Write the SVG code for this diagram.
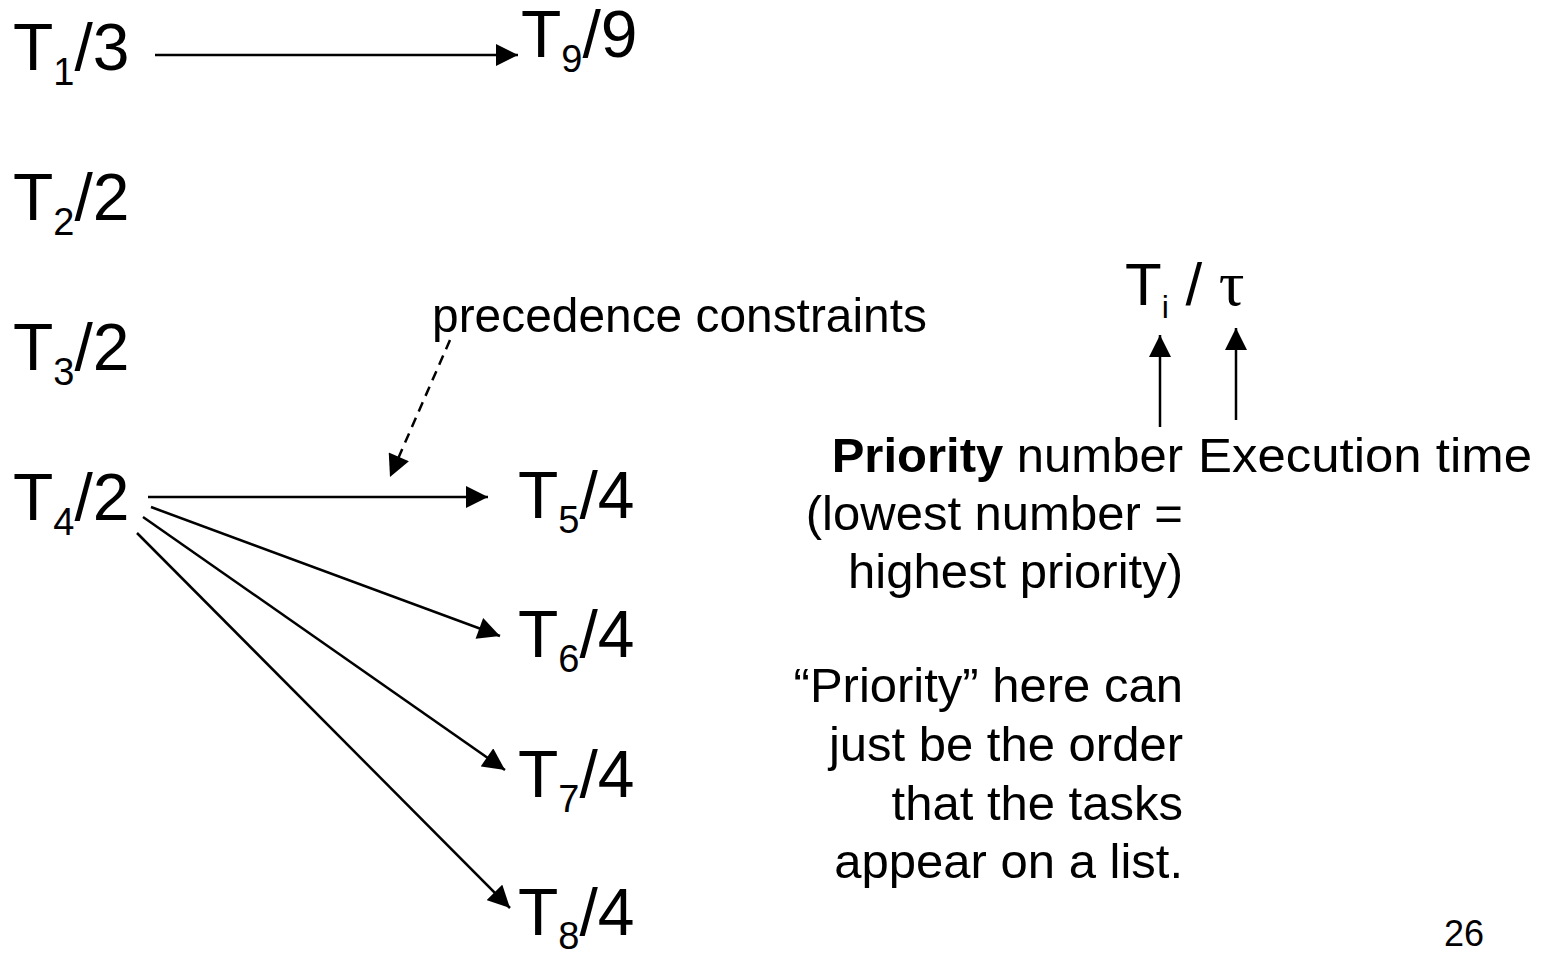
<svg xmlns="http://www.w3.org/2000/svg" width="1548" height="954" viewBox="0 0 1548 954">
<style>
text{font-family:"Liberation Sans",Arial,sans-serif;fill:#000}
.task{font-size:66px}
.sub{font-size:38px}
.note{font-size:49px}
.edge{stroke:#000;stroke-width:2.5;fill:none}
.dash{stroke-dasharray:10,7}
</style>
<defs>
<marker id="ah" viewBox="0 0 10 10" refX="10" refY="5" markerUnits="userSpaceOnUse" markerWidth="23" markerHeight="22" orient="auto">
<path d="M0,0 L10,5 L0,10 Z" fill="#000"/>
</marker>
</defs>
<rect width="1548" height="954" fill="#fff"/>
<g id="connectors">
<line class="edge" x1="155" y1="55" x2="518" y2="55" marker-end="url(#ah)"/>
<line class="edge" x1="148" y1="497" x2="488" y2="497" marker-end="url(#ah)"/>
<line class="edge" x1="151" y1="507" x2="500" y2="636" marker-end="url(#ah)"/>
<line class="edge" x1="143" y1="517" x2="505" y2="770" marker-end="url(#ah)"/>
<line class="edge" x1="137" y1="533" x2="510" y2="908" marker-end="url(#ah)"/>
<line class="edge dash" x1="450" y1="340" x2="390" y2="477" marker-end="url(#ah)"/>
<line class="edge" x1="1160" y1="427" x2="1160" y2="335" marker-end="url(#ah)"/>
<line class="edge" x1="1236" y1="420" x2="1236" y2="328" marker-end="url(#ah)"/>
</g>
<g id="T1"><text class="task" x="13" y="70">T<tspan class="sub" dy="15">1</tspan><tspan dy="-15">/3</tspan></text></g>
<g id="T9"><text class="task" x="521" y="57">T<tspan class="sub" dy="15">9</tspan><tspan dy="-15">/9</tspan></text></g>
<g id="T2"><text class="task" x="13" y="220">T<tspan class="sub" dy="15">2</tspan><tspan dy="-15">/2</tspan></text></g>
<g id="T3"><text class="task" x="13" y="370">T<tspan class="sub" dy="15">3</tspan><tspan dy="-15">/2</tspan></text></g>
<g id="T4"><text class="task" x="13" y="520">T<tspan class="sub" dy="15">4</tspan><tspan dy="-15">/2</tspan></text></g>
<g id="T5"><text class="task" x="518" y="518">T<tspan class="sub" dy="15">5</tspan><tspan dy="-15">/4</tspan></text></g>
<g id="T6"><text class="task" x="518" y="657">T<tspan class="sub" dy="15">6</tspan><tspan dy="-15">/4</tspan></text></g>
<g id="T7"><text class="task" x="518" y="797">T<tspan class="sub" dy="15">7</tspan><tspan dy="-15">/4</tspan></text></g>
<g id="T8"><text class="task" x="518" y="935">T<tspan class="sub" dy="14">8</tspan><tspan dy="-14">/4</tspan></text></g>
<g id="precedence-label"><text class="note" x="432" y="332" font-size="48" textLength="495" lengthAdjust="spacingAndGlyphs">precedence constraints</text></g>
<g id="legend">
<text x="1125" y="305" font-size="60">T<tspan font-size="32" dy="13">i</tspan><tspan dy="-13"> / </tspan><tspan font-size="64" font-family="'Liberation Serif','Times New Roman',serif">τ</tspan></text>
</g>
<g id="priority-label">
<text class="note" text-anchor="end" x="1183" y="472"><tspan font-weight="bold">Priority</tspan> number</text>
<text class="note" text-anchor="end" x="1183" y="530">(lowest number =</text>
<text class="note" text-anchor="end" x="1183" y="588">highest priority)</text>
</g>
<g id="execution-label"><text class="note" x="1198" y="472" textLength="334" lengthAdjust="spacingAndGlyphs">Execution time</text></g>
<g id="priority-note">
<text class="note" text-anchor="end" x="1183" y="702">“Priority” here can</text>
<text class="note" text-anchor="end" x="1183" y="761">just be the order</text>
<text class="note" text-anchor="end" x="1183" y="820">that the tasks</text>
<text class="note" text-anchor="end" x="1183" y="878">appear on a list.</text>
</g>
<g id="page-number"><text x="1444" y="946" font-size="36">26</text></g>
</svg>
